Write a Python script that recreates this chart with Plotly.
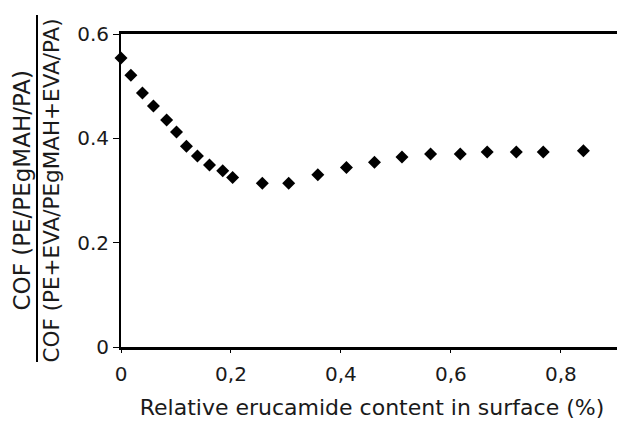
import plotly.graph_objects as go

# Data
erucamide = [0.0, 0.018, 0.039, 0.059, 0.083, 0.101, 0.119, 0.139, 0.161, 0.185, 0.203,
             0.257, 0.305, 0.358, 0.41, 0.461, 0.511, 0.563, 0.617, 0.666, 0.719, 0.768, 0.841]
cof_ratio = [0.554, 0.521, 0.487, 0.462, 0.435, 0.412, 0.385, 0.366, 0.349, 0.338, 0.325,
             0.314, 0.314, 0.330, 0.344, 0.354, 0.364, 0.370, 0.370, 0.374, 0.374, 0.374, 0.376]

x_tickvals = [0, 0.2, 0.4, 0.6, 0.8]
x_ticktext = ["0", "0,2", "0,4", "0,6", "0,8"]
y_tickvals = [0, 0.2, 0.4, 0.6]
y_ticktext = ["0", "0.2", "0.4", "0.6"]

x_title = "Relative erucamide content in surface (%)"
y_title_num = "COF (PE/PEgMAH/PA)"
y_title_den = "COF (PE+EVA/PEgMAH+EVA/PA)"

FONT = "DejaVu Sans"
TXT = "#1a1a1a"

fig = go.Figure()
fig.add_trace(go.Scatter(
    x=erucamide, y=cof_ratio, mode="markers",
    marker=dict(symbol="diamond", size=10, color="black", line=dict(width=0)),
    showlegend=False, cliponaxis=False,
))

# figure sized so that, with the page's 8px body margin, it fills the 625x427 window
fig.update_layout(
    width=617, height=419,
    margin=dict(l=113, r=2, t=26, b=80),
    paper_bgcolor="white", plot_bgcolor="white",
    font=dict(family=FONT, size=20, color=TXT),
    xaxis=dict(
        range=[0, 0.913], tickvals=x_tickvals, ticktext=x_ticktext,
        showgrid=False, zeroline=False, automargin=False,
        showline=True, linecolor="black", linewidth=2.5, mirror=True,
        ticks="outside", ticklen=3, tickcolor="black", tickwidth=1,
        ticklabelstandoff=4,
        tickfont=dict(family=FONT, size=20, color=TXT),
        title=dict(text=x_title, font=dict(family=FONT, size=22, color=TXT), standoff=15),
    ),
    yaxis=dict(
        range=[0, 0.6], tickvals=y_tickvals, ticktext=y_ticktext,
        showgrid=False, zeroline=False, automargin=False,
        showline=True, linecolor="black", linewidth=2, mirror=True,
        ticks="outside", ticklen=6, tickcolor="black", tickwidth=1,
        ticklabelstandoff=0,
        tickfont=dict(family=FONT, size=20, color=TXT),
    ),
)

fig.add_annotation(text=y_title_num, xref="paper", yref="paper", x=0, y=0.5,
                   xshift=-100, xanchor="center", yanchor="middle", textangle=-90,
                   showarrow=False, font=dict(family=FONT, size=23, color=TXT))
fig.add_annotation(text=y_title_den, xref="paper", yref="paper", x=0, y=0.5,
                   xshift=-70, xanchor="center", yanchor="middle", textangle=-90,
                   showarrow=False, font=dict(family=FONT, size=21.5, color=TXT))
fig.add_shape(type="line", xref="paper", yref="paper",
              x0=-84 / 502, x1=-84 / 502, y0=-15 / 313, y1=332 / 313,
              line=dict(color="black", width=2))

fig.write_html("out.html")
